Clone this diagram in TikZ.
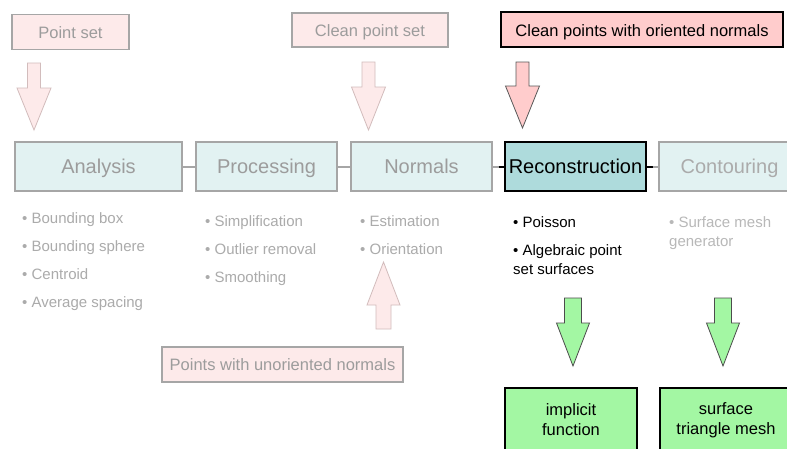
\documentclass[tikz,border=0pt]{standalone}
\usepackage{fontspec}
\setmainfont{Liberation Sans}
\usetikzlibrary{calc}
\definecolor{pinkfill}{HTML}{FDEAEA}
\definecolor{pinkdark}{HTML}{FFCCCC}
\definecolor{pinkline}{HTML}{D2BCBC}
\definecolor{boxgray}{HTML}{A6A6A6}
\definecolor{txtgray}{HTML}{9C9C9C}
\definecolor{lightgray2}{HTML}{ABABAB}
\definecolor{cyanfill}{HTML}{E2F2F2}
\definecolor{tealfill}{HTML}{AEDBDC}
\definecolor{greenfill}{HTML}{A3F7A3}
\begin{document}
\begin{tikzpicture}[x=1pt,y=-1pt,
  inputbox/.style={draw=boxgray, line width=1.6pt, fill=pinkfill, text=txtgray,
    font=\fontsize{16.5}{20}\selectfont, minimum height=35pt, inner sep=0pt,
    text height=17pt, text depth=3.5pt},
  stagebox/.style={draw=boxgray, line width=1.6pt, fill=cyanfill, text=txtgray,
    font=\fontsize{20}{24}\selectfont, minimum height=49pt, minimum width=141pt, inner sep=0pt,
    text height=17pt, text depth=3.5pt},
  outbox/.style={draw=black, line width=1.6pt, fill=greenfill, text=black, align=center,
    font=\fontsize{16.5}{20}\selectfont, inner sep=0pt},
  item/.style={anchor=base west, text=lightgray2, font=\fontsize{15}{19}\selectfont, inner sep=0pt, align=left},
  conn/.style={draw=boxgray, line width=2pt},
  conndark/.style={draw=black, line width=2pt},
  palearrow/.style={draw=pinkline, line width=0.8pt, fill=pinkfill},
  darkarrow/.style={draw=black!65, line width=0.8pt, fill=pinkdark},
  greenarrow/.style={draw=black!70, line width=0.8pt, fill=greenfill}]
\useasboundingbox (0,0) rectangle (787,448);
\clip (0,0) rectangle (787,448);
\fill[white] (0,0) rectangle (787,448);

% input boxes
\node[inputbox, minimum width=117pt] (ps) at (70.5,32) {Point set};
\node[inputbox, minimum width=156pt, minimum height=34pt] (cps) at (370,30) {Clean point set};
\node[inputbox, draw=black, fill=pinkdark, text=black, minimum width=282pt] (cpo) at (642,29.5) {Clean points with oriented normals};
\node[inputbox, minimum width=241pt, text height=15pt] (pun) at (282.5,364.5) {Points with unoriented normals};

% stages
\node[stagebox, minimum width=167pt] (ana) at (98.5,166.5) {Analysis};
\node[stagebox] (proc) at (266.5,166.5) {Processing};
\node[stagebox] (norm) at (421.5,166.5) {Normals};
\node[stagebox, draw=black, fill=tealfill, text=black] (rec) at (575.5,166.5) {Reconstruction};
\node[stagebox, text=lightgray2] (cont) at (729.5,166.5) {Contouring};

% connectors
\draw[conn] (ana.east) -- (proc.west);
\draw[conn] (proc.east) -- (norm.west);
\coordinate (m1) at ($(norm.east)!0.5!(rec.west)$);
\coordinate (m2) at ($(rec.east)!0.5!(cont.west)$);
\draw[conn] (norm.east) -- (m1);
\draw[conndark] (m1) -- (rec.west);
\draw[conndark] (rec.east) -- (m2);
\draw[conn] (m2) -- (cont.west);

% bullet lists
\node[item] (a1) at (22,223.5) {\textbullet\ Bounding box};
\node[item] (a2) at (22,251.5) {\textbullet\ Bounding sphere};
\node[item] (a3) at (22,279.5) {\textbullet\ Centroid};
\node[item] (a4) at (22,307.5) {\textbullet\ Average spacing};
\node[item] (p1) at (205,226.5) {\textbullet\ Simplification};
\node[item] (p2) at (205,254.5) {\textbullet\ Outlier removal};
\node[item] (p3) at (205,282.5) {\textbullet\ Smoothing};
\node[item] (n1) at (360,226.5) {\textbullet\ Estimation};
\node[item] (n2) at (360,254.5) {\textbullet\ Orientation};
\node[item, text=black] (r1) at (513,227.5) {\textbullet\ Poisson};
\node[item, text=black] (r2) at (513,274.5) {\textbullet\ Algebraic point\\set surfaces};
\node[item, text=lightgray2!85] (c1) at (669,246.5) {\textbullet\ Surface mesh\\generator};

% block arrows
\path[palearrow] (27.5,63) -- (40.5,63) -- (40.5,88) -- (51,88) -- (34,130) -- (17,88) -- (27.5,88) -- cycle;
\path[palearrow] (362,62) -- (375,62) -- (375,87) -- (385.5,87) -- (368.5,130) -- (351.5,87) -- (362,87) -- cycle;
\path[darkarrow] (516,62) -- (529,62) -- (529,86) -- (539.5,86) -- (522.5,128) -- (505.5,86) -- (516,86) -- cycle;
\path[palearrow] (376,329) -- (391,329) -- (391,305) -- (400,305) -- (383.5,262) -- (367,305) -- (376,305) -- cycle;
\path[greenarrow] (564.5,298) -- (581.5,298) -- (581.5,323) -- (589.5,323) -- (573,366) -- (556.5,323) -- (564.5,323) -- cycle;
\path[greenarrow] (714.5,298) -- (731.5,298) -- (731.5,323) -- (739.5,323) -- (723,366) -- (706.5,323) -- (714.5,323) -- cycle;

% outputs
\node[outbox, minimum width=132pt, minimum height=64pt] (impl) at (571,420) {implicit\\function};
\node[outbox, minimum width=132pt, minimum height=64pt] (mesh) at (726,420) {surface\\triangle mesh};
\end{tikzpicture}
\end{document}
